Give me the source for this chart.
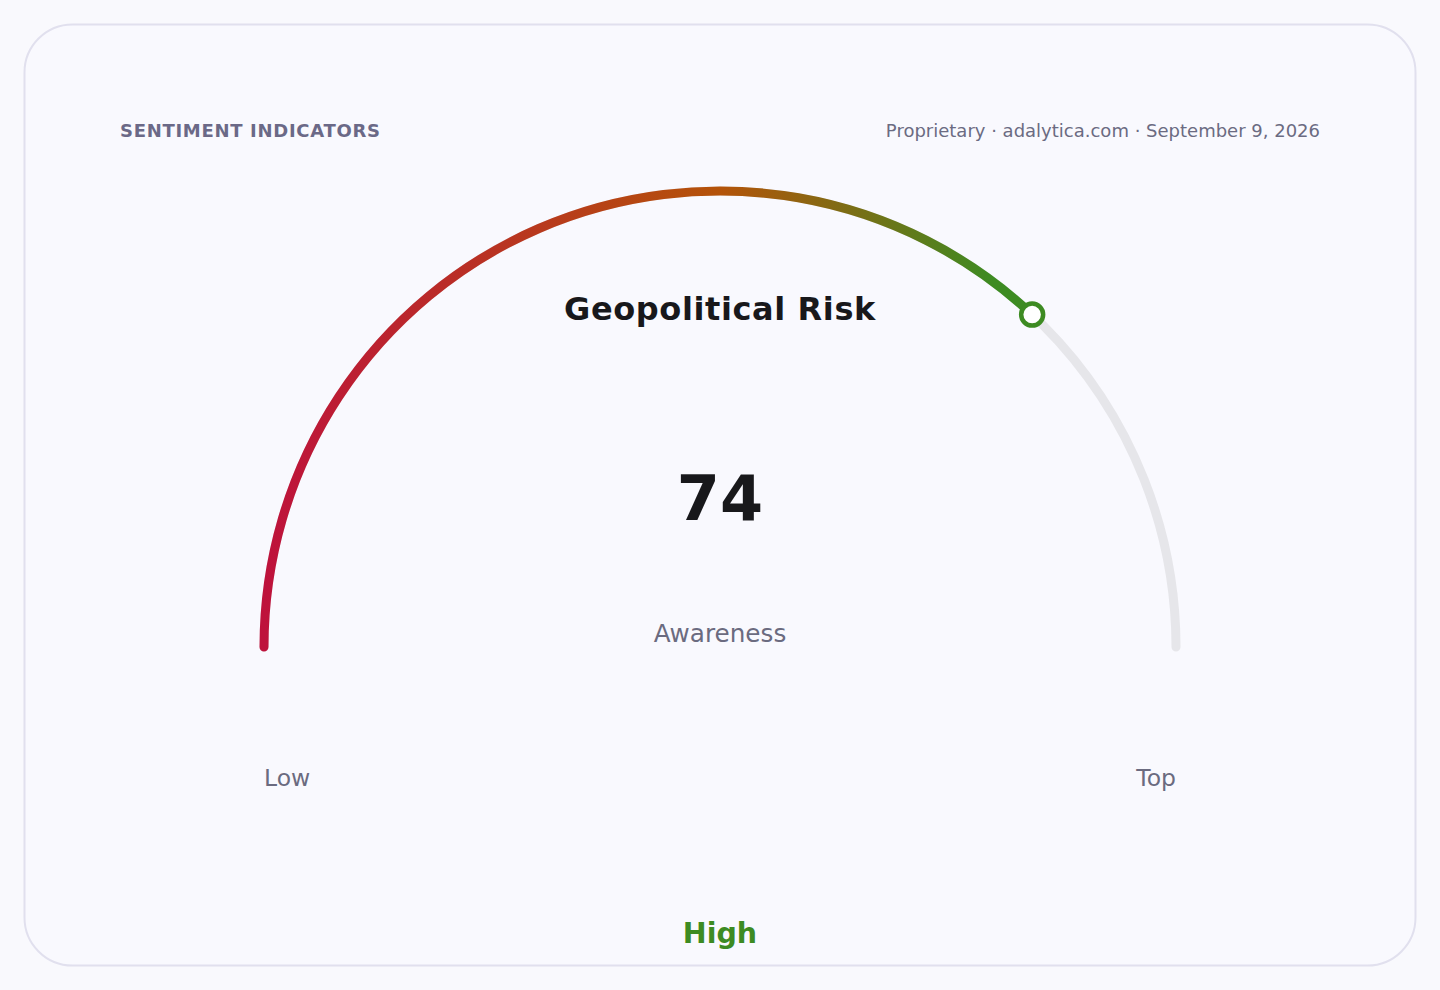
<!DOCTYPE html>
<html>
<head>
<meta charset="utf-8">
<script src="https://cdn.jsdelivr.net/npm/d3@7"></script>
<style>
  html, body { margin: 0; padding: 0; background: #f9f9fd; }
  svg { display: block; font-family: "DejaVu Sans", sans-serif; }
</style>
</head>
<body>
<div id="chart"></div>
<script>
// Gauge data
const indicatorName = "Geopolitical Risk";
const indicatorValue = 74;
const valueLabel = "Awareness";
const levelLabel = "High";
const scaleDomain = [0, 100];
const scaleEnds = ["Low", "Top"];
const gradientStops = [
	{ offset: 0, color: "#be123c" },
	{ offset: 0.5, color: "#b45309" },
	{ offset: 0.8, color: "#3d8b22" },
	{ offset: 1, color: "#3d8b22" },
];
const headerLeft = "SENTIMENT INDICATORS";
const headerRight = "Proprietary · adalytica.com · September 9, 2026";

const width = 1440;
const height = 990;

const cx = 720;
const cy = 647;
const radius = 456;
const thickness = 9;

const svg = d3
	.select("#chart")
	.append("svg")
	.attr("width", width)
	.attr("height", height);

// Card
svg.append("rect")
	.attr("x", 24.5)
	.attr("y", 24.5)
	.attr("width", 1391)
	.attr("height", 941)
	.attr("rx", 48)
	.attr("fill", "#f9f9fe")
	.attr("stroke", "#e1e0ee")
	.attr("stroke-width", 2);

// Header
svg.append("text")
	.attr("x", 120)
	.attr("y", 137)
	.attr("fill", "#6b6987")
	.style("font-size", "18px")
	.style("font-weight", "bold")
	.style("letter-spacing", "0.7px")
	.text(headerLeft);

svg.append("text")
	.attr("x", 1320)
	.attr("y", 137)
	.attr("text-anchor", "end")
	.attr("fill", "#6b6b82")
	.style("font-size", "18px")
	.text(headerRight);

// Gradient along x, in the gauge group's coordinates
const defs = svg.append("defs");
const grad = defs
	.append("linearGradient")
	.attr("id", "gauge-grad")
	.attr("gradientUnits", "userSpaceOnUse")
	.attr("x1", -radius)
	.attr("x2", radius)
	.attr("y1", 0)
	.attr("y2", 0);
grad.selectAll("stop")
	.data(gradientStops)
	.join("stop")
	.attr("offset", (d) => d.offset)
	.attr("stop-color", (d) => d.color);

// value -> angle (0 = left end, 100 = right end), measured like canvas arcs
const angle = d3
	.scaleLinear()
	.domain(scaleDomain)
	.range([Math.PI, 2 * Math.PI]);

function arcPath(v0, v1) {
	const p = d3.path();
	p.arc(0, 0, radius, angle(v0), angle(v1), false);
	return p.toString();
}

const g = svg.append("g").attr("transform", `translate(${cx},${cy})`);

// Track
g.append("path")
	.attr("d", arcPath(scaleDomain[0], scaleDomain[1]))
	.attr("fill", "none")
	.attr("stroke", "#e6e6ea")
	.attr("stroke-width", thickness)
	.attr("stroke-linecap", "round");

// Value arc
g.append("path")
	.attr("d", arcPath(scaleDomain[0], indicatorValue))
	.attr("fill", "none")
	.attr("stroke", "url(#gauge-grad)")
	.attr("stroke-width", thickness)
	.attr("stroke-linecap", "round");

// Marker
const a = angle(indicatorValue);
g.append("circle")
	.attr("cx", radius * Math.cos(a))
	.attr("cy", radius * Math.sin(a))
	.attr("r", 11)
	.attr("fill", "#ffffff")
	.attr("stroke", "#3d8b22")
	.attr("stroke-width", 4.5);

// Texts
svg.append("text")
	.attr("x", cx)
	.attr("y", 320)
	.attr("text-anchor", "middle")
	.attr("fill", "#18181b")
	.style("font-size", "32px")
	.style("font-weight", "bold")
	.style("letter-spacing", "0.6px")
	.text(indicatorName);

svg.append("text")
	.attr("x", cx)
	.attr("y", 520)
	.attr("text-anchor", "middle")
	.attr("fill", "#18181b")
	.style("font-size", "62px")
	.style("font-weight", "bold")
	.text(indicatorValue);

svg.append("text")
	.attr("x", cx)
	.attr("y", 642)
	.attr("text-anchor", "middle")
	.attr("fill", "#6b6b80")
	.style("font-size", "24.7px")
	.text(valueLabel);

svg.append("text")
	.attr("x", cx - radius)
	.attr("y", 786)
	.attr("fill", "#6b6b80")
	.style("font-size", "23.5px")
	.text(scaleEnds[0]);

svg.append("text")
	.attr("x", cx + radius)
	.attr("y", 786)
	.attr("text-anchor", "end")
	.attr("fill", "#6b6b80")
	.style("font-size", "23.5px")
	.text(scaleEnds[1]);

svg.append("text")
	.attr("x", cx)
	.attr("y", 943)
	.attr("text-anchor", "middle")
	.attr("fill", "#3d8b22")
	.style("font-size", "28.5px")
	.style("font-weight", "bold")
	.text(levelLabel);
</script>
</body>
</html>
